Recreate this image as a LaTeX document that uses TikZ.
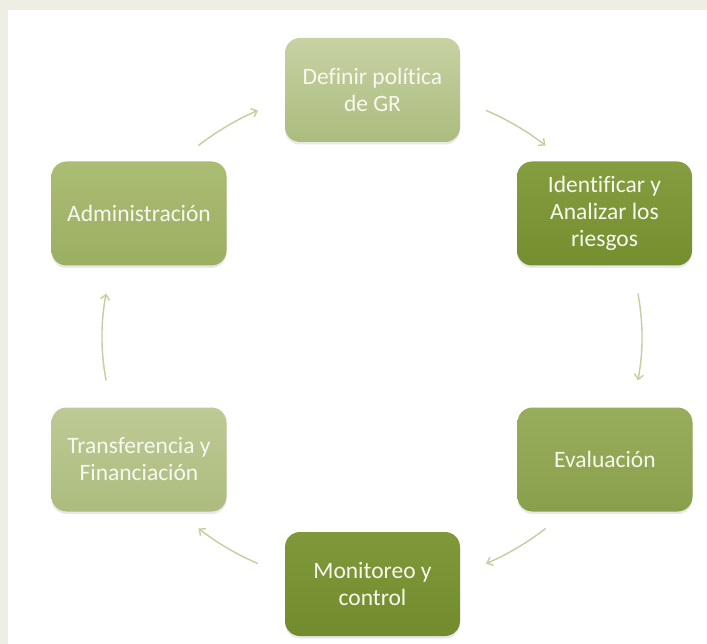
\documentclass[tikz,border=0pt]{standalone}
\usepackage{fontspec}
\setmainfont{Carlito}[Ligatures={NoCommon}]
\usetikzlibrary{arrows.meta,shadows}
\definecolor{bgbeige}{HTML}{EEEEE5}
\definecolor{arrowgreen}{HTML}{C2CF9E}
\definecolor{txtwhite}{HTML}{F7F8F0}
\tikzset{
  box/.style={rounded corners=15pt, minimum width=175pt, minimum height=104pt,
    inner sep=0pt, align=center, text=txtwhite,
    font=\fontsize{23.5}{27}\selectfont,
    drop shadow={opacity=0.18, shadow xshift=0pt, shadow yshift=-2.5pt}},
  flow/.style={draw=arrowgreen, line width=1.4pt,
    -{Straight Barb[length=5pt,width=9pt]}}
}
\begin{document}
\begin{tikzpicture}[x=1pt,y=1pt]
  \useasboundingbox (0,0) rectangle (707,-644);
  \fill[bgbeige] (0,0) rectangle (707,-644);
  \fill[white] (8,-10) rectangle (707,-644);

  \node[box, top color={rgb,255:red,199;green,209;blue,163}, bottom color={rgb,255:red,172;green,188;blue,126}]
    (def) at (372.5,-90) {Definir política\\de GR};
  \node[box, top color={rgb,255:red,132;green,157;blue,64}, bottom color={rgb,255:red,117;green,143;blue,47}]
    (ide) at (604.5,-213.5) {Identificar y\\Analizar los\\riesgos};
  \node[box, top color={rgb,255:red,152;green,173;blue,92}, bottom color={rgb,255:red,137;green,160;blue,75}]
    (eva) at (605,-459.5) {Evaluación};
  \node[box, top color={rgb,255:red,128;green,152;blue,57}, bottom color={rgb,255:red,114;green,140;blue,45}]
    (mon) at (372.5,-584) {Monitoreo y\\control};
  \node[box, top color={rgb,255:red,190;green,202;blue,150}, bottom color={rgb,255:red,172;green,188;blue,126}]
    (tra) at (139,-459.5) {Transferencia y\\Financiación};
  \node[box, top color={rgb,255:red,172;green,188;blue,116}, bottom color={rgb,255:red,155;green,175;blue,97}]
    (adm) at (139,-213.5) {Administración};

  \coordinate (ctr) at (372,-337);
  \draw[flow] (ctr) ++(65:270pt and 250pt) arc[start angle=65, end angle=50, x radius=270pt, y radius=250pt];
  \draw[flow] (ctr) ++(10:270pt and 250pt) arc[start angle=10, end angle=-10, x radius=270pt, y radius=250pt];
  \draw[flow] (ctr) ++(-50:270pt and 250pt) arc[start angle=-50, end angle=-65, x radius=270pt, y radius=250pt];
  \draw[flow] (ctr) ++(-115:270pt and 250pt) arc[start angle=-115, end angle=-130, x radius=270pt, y radius=250pt];
  \draw[flow] (ctr) ++(190:270pt and 250pt) arc[start angle=190, end angle=170, x radius=270pt, y radius=250pt];
  \draw[flow] (ctr) ++(130:270pt and 250pt) arc[start angle=130, end angle=115, x radius=270pt, y radius=250pt];
\end{tikzpicture}
\end{document}
